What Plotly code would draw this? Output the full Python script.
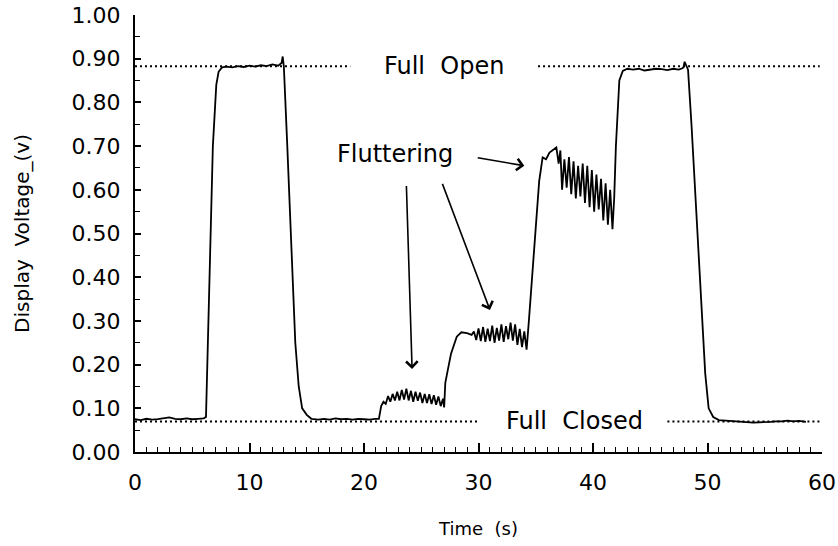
import plotly.graph_objects as go

time_s = [
    0.0, 0.5, 1.0, 1.5, 2.0, 2.5, 3.0, 3.5, 4.0, 4.5, 5.0, 5.5, 6.0, 6.2, 6.5, 6.8, 7.1, 7.3, 7.6,
    8.0, 8.5, 9.0, 9.5, 10.0, 10.5, 11.0, 11.5, 12.0, 12.5, 12.8, 12.9, 13.0, 13.3, 13.7, 14.0,
    14.3, 14.6, 15.0, 15.4, 16.0, 16.5, 17.0, 17.5, 18.0, 18.5, 19.0, 19.5, 20.0, 20.5, 21.0,
    21.3, 21.5, 21.7, 21.9, 22.1, 22.3, 22.5, 22.7, 22.9, 23.1, 23.3, 23.5, 23.7, 23.9, 24.1,
    24.3, 24.5, 24.7, 24.9, 25.1, 25.3, 25.5, 25.7, 25.9, 26.1, 26.3, 26.5, 26.7, 26.9, 27.0,
    27.1, 27.3, 27.6, 28.1, 28.5, 29.0, 29.4, 29.6, 29.8, 30.0, 30.2, 30.4, 30.6, 30.8, 31.0,
    31.2, 31.4, 31.6, 31.8, 32.0, 32.2, 32.4, 32.6, 32.8, 33.0, 33.2, 33.4, 33.6, 33.8, 34.0,
    34.2, 34.4, 34.7, 35.07, 35.3, 35.6, 35.9, 36.2, 36.5, 36.8, 37.0, 37.15, 37.3, 37.5, 37.7,
    37.9, 38.1, 38.3, 38.5, 38.7, 38.9, 39.1, 39.3, 39.5, 39.7, 39.9, 40.1, 40.3, 40.5, 40.7,
    40.9, 41.1, 41.3, 41.5, 41.7, 41.85, 42.0, 42.3, 42.6, 43.0, 43.5, 44.0, 44.5, 45.0, 45.5,
    46.0, 46.5, 47.0, 47.5, 47.8, 47.9, 48.0, 48.3, 48.6, 49.0, 49.4, 49.8, 50.1, 50.5, 51.0,
    51.5, 52.0, 52.5, 53.0, 53.5, 54.0, 54.5, 55.0, 55.5, 56.0, 56.5, 57.0, 57.5, 58.0, 58.6,
]
voltage_v = [
    0.075, 0.073, 0.076, 0.074, 0.075, 0.077, 0.079, 0.076, 0.075, 0.077, 0.075, 0.076, 0.077,
    0.080, 0.40, 0.70, 0.84, 0.87, 0.880,
    0.882, 0.880, 0.883, 0.881, 0.884, 0.882, 0.885, 0.883, 0.887, 0.884, 0.890, 0.905, 0.882,
    0.70, 0.45, 0.25, 0.15, 0.10, 0.085, 0.076, 0.074, 0.076, 0.074, 0.077, 0.075, 0.076, 0.074,
    0.076, 0.075, 0.074, 0.076,
    0.076, 0.105, 0.115, 0.110, 0.128, 0.115, 0.133, 0.118, 0.138, 0.118, 0.142, 0.120, 0.145,
    0.118, 0.140, 0.115, 0.138, 0.117, 0.136, 0.112, 0.133, 0.112, 0.132, 0.110, 0.130, 0.108,
    0.127, 0.105, 0.122, 0.102,
    0.158, 0.185, 0.225, 0.264, 0.274, 0.272, 0.268, 0.276, 0.256, 0.283, 0.254, 0.286, 0.252,
    0.282, 0.254, 0.289, 0.250, 0.284, 0.255, 0.292, 0.252, 0.288, 0.258, 0.296, 0.255, 0.292,
    0.245, 0.282, 0.240, 0.276,
    0.234, 0.300, 0.400, 0.525, 0.620, 0.674, 0.670, 0.685, 0.690, 0.697, 0.660, 0.690, 0.600,
    0.670, 0.605, 0.675, 0.590, 0.665, 0.580, 0.655, 0.585, 0.660, 0.570, 0.655, 0.560, 0.645,
    0.550, 0.635, 0.555, 0.625, 0.530, 0.615, 0.520, 0.600, 0.510, 0.580, 0.700, 0.850, 0.872,
    0.877, 0.875, 0.877, 0.873, 0.875, 0.877, 0.876, 0.874, 0.877, 0.875, 0.878, 0.880, 0.893,
    0.875, 0.750, 0.550, 0.350, 0.180, 0.100, 0.080, 0.073, 0.072, 0.071, 0.070, 0.068, 0.067,
    0.067, 0.068, 0.068, 0.069, 0.070, 0.070, 0.072, 0.070, 0.071, 0.069, 0.070,
]

# Reference levels
full_open_level = 0.883
full_closed_level = 0.070
open_segments = [(0, 18.8), (35.2, 59.8)]
closed_segments = [(0, 30.1), (46.5, 60)]

x_ticks = [0, 10, 20, 30, 40, 50, 60]
y_ticks = [0.0, 0.1, 0.2, 0.3, 0.4, 0.5, 0.6, 0.7, 0.8, 0.9, 1.0]

FONT = "DejaVu Sans"

fig = go.Figure()
fig.add_trace(go.Scatter(x=time_s, y=voltage_v, mode="lines",
                         line=dict(color="black", width=1.8), showlegend=False))

for a, b in open_segments:
    fig.add_trace(go.Scatter(x=[a, b], y=[full_open_level] * 2, mode="lines",
                             line=dict(color="black", width=2, dash="2px,3px"), showlegend=False))
for a, b in closed_segments:
    fig.add_trace(go.Scatter(x=[a, b], y=[full_closed_level] * 2, mode="lines",
                             line=dict(color="black", width=2, dash="2px,3px"), showlegend=False))

fig.add_annotation(x=27.0, y=full_open_level, text="Full  Open", showarrow=False,
                   font=dict(family=FONT, size=24, color="black"))
fig.add_annotation(x=38.4, y=full_closed_level, text="Full  Closed", showarrow=False,
                   font=dict(family=FONT, size=24, color="black"))
fig.add_annotation(x=22.7, y=0.683, text="Fluttering", showarrow=False,
                   font=dict(family=FONT, size=24, color="black"))

arrows = [
    ((29.8, 0.674), (34.0, 0.655)),
    ((23.7, 0.612), (24.2, 0.19)),
    ((26.8, 0.617), (31.0, 0.325)),
]
for (sx, sy), (ex, ey) in arrows:
    fig.add_annotation(x=ex, y=ey, ax=sx, ay=sy, axref="x", ayref="y", xref="x", yref="y",
                       text="", showarrow=True, arrowhead=4, arrowsize=1.4, arrowwidth=1.6,
                       arrowcolor="black")

fig.update_layout(
    width=838, height=546,
    margin=dict(l=135, r=16, t=15, b=94),
    paper_bgcolor="white", plot_bgcolor="white",
    font=dict(family=FONT, color="black"),
)
fig.update_xaxes(
    range=[0, 60], tickvals=x_ticks, ticktext=[str(v) for v in x_ticks],
    ticks="inside", ticklen=9, tickwidth=1.5, tickcolor="black",
    minor=dict(dtick=1, ticks="inside", ticklen=5, tickwidth=1.2, tickcolor="black"),
    showline=True, linecolor="black", linewidth=2, showgrid=False, zeroline=False,
    tickfont=dict(family=FONT, size=22), ticklabelstandoff=10, automargin=False,
    ticklabeloverflow="allow",
    title=dict(text="Time  (s)", font=dict(family=FONT, size=18), standoff=28),
)
fig.update_yaxes(
    range=[0, 1.0], tickvals=y_ticks, ticktext=[f"{v:.2f}" for v in y_ticks],
    ticks="inside", ticklen=6, tickwidth=1.5, tickcolor="black",
    minor=dict(dtick=0.05, ticks="inside", ticklen=5, tickwidth=1.2, tickcolor="black"),
    showline=True, linecolor="black", linewidth=2, showgrid=False, zeroline=False,
    tickfont=dict(family=FONT, size=22), ticklabelstandoff=8, automargin=False,
    ticklabeloverflow="allow",
    title=dict(text="Display  Voltage_(v)", font=dict(family=FONT, size=20), standoff=37),
)

# Remove the browser's default 8px body margin so the 838x546 figure fills the window.
fig.write_html("out.html", config={"displayModeBar": False},
               post_script="document.body.style.margin='0px';")
